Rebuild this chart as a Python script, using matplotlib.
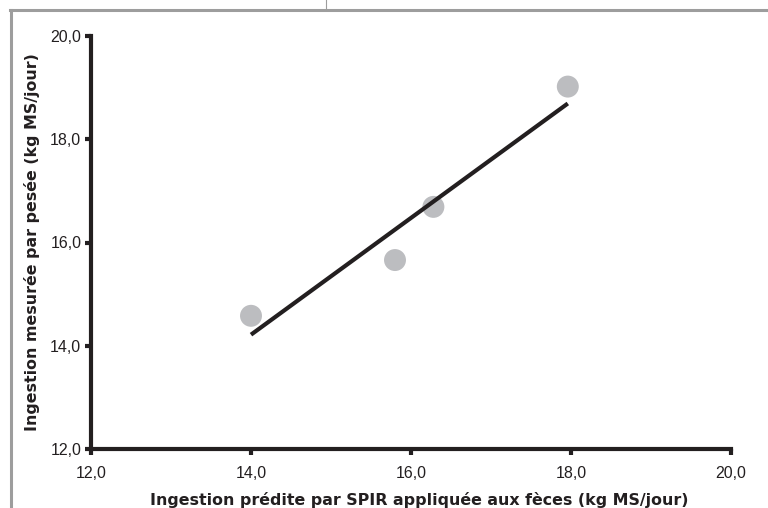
import numpy as np
import matplotlib.pyplot as plt
from matplotlib.lines import Line2D

# --- data ---
predite = [14.0, 15.8, 16.28, 17.96]      # Ingestion prédite par SPIR (kg MS/jour)
mesuree = [14.58, 15.66, 16.69, 19.02]    # Ingestion mesurée par pesée (kg MS/jour)
x_ticks = [12.0, 14.0, 16.0, 18.0, 20.0]
y_ticks = [12.0, 14.0, 16.0, 18.0, 20.0]

x_label = "Ingestion prédite par SPIR appliquée aux fèces (kg MS/jour)"
y_label = "Ingestion mesurée par pesée (kg MS/jour)"

dark = '#231f20'
grey_pt = '#bcbdc0'
frame = '#9d9d9d'

fig = plt.figure(figsize=(7.68, 5.08), dpi=100)
ax = fig.add_axes([91 / 768, 1 - 449 / 508, 640 / 768, 413 / 508])

# points
ax.scatter(predite, mesuree, s=250, color=grey_pt, edgecolor='none', zorder=2)

# regression line over the range of predicted values
slope, intercept = np.polyfit(predite, mesuree, 1)
xr = np.array([min(predite), max(predite)])
ax.plot(xr, slope * xr + intercept, color=dark, linewidth=3, solid_capstyle='butt', zorder=3)

ax.set_xlim(12, 20)
ax.set_ylim(12, 20)
ax.set_xticks(x_ticks)
ax.set_yticks(y_ticks)
ax.set_xticklabels([f"{v:.1f}".replace('.', ',') for v in x_ticks],
                   fontfamily='Liberation Sans', fontsize=11.5)
ax.set_yticklabels([f"{v:.1f}".replace('.', ',') for v in y_ticks],
                   fontfamily='Liberation Sans', fontsize=11.5)

for side in ['top', 'right']:
    ax.spines[side].set_visible(False)
for side in ['left', 'bottom']:
    ax.spines[side].set_linewidth(3)
    ax.spines[side].set_color(dark)
    ax.spines[side].set_capstyle('projecting')
ax.tick_params(axis='both', direction='out', length=4, width=3, color=dark,
               labelcolor='#231f20')
ax.tick_params(axis='y', pad=3)
ax.tick_params(axis='x', pad=8)

ax.set_xlabel(x_label, fontsize=11.4, fontweight='bold', fontfamily='DejaVu Sans',
              color=dark, labelpad=8)
ax.xaxis.set_label_coords(0.513, -0.105)
ax.set_ylabel(y_label, fontsize=11.4, fontweight='bold', fontfamily='DejaVu Sans',
              color=dark, labelpad=7)

# grey page frame around the chart
fig.add_artist(Line2D([11 / 768, 11 / 768], [0, 1 - 10 / 508], transform=fig.transFigure,
                      color=frame, linewidth=2.2))
fig.add_artist(Line2D([10 / 768, 1], [1 - 10 / 508, 1 - 10 / 508], transform=fig.transFigure,
                      color=frame, linewidth=2.2))
fig.add_artist(Line2D([326 / 768, 326 / 768], [1 - 10 / 508, 1], transform=fig.transFigure,
                      color=frame, linewidth=0.8))

fig.savefig('out.png', dpi=100)
